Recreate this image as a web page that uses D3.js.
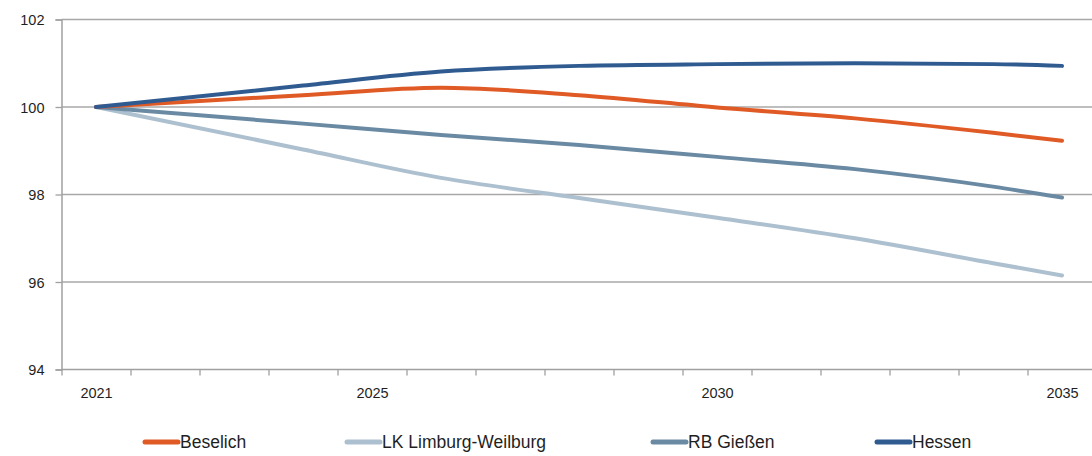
<!DOCTYPE html>
<html>
<head>
<meta charset="utf-8">
<script src="https://cdn.jsdelivr.net/npm/d3@7"></script>
<style>
  body { margin: 0; background: #fff; }
  svg { display: block; font-family: "Liberation Sans", Arial, sans-serif; }
  .axis text { fill: #1f1f1f; }
</style>
</head>
<body>
<div class="chart"></div>
<script>
const width = 1092;
const height = 456;

// data (index, 2021 = 100)
const years = [2021, 2024, 2026, 2028, 2030, 2032, 2034, 2035];
const beselich = [100, 100.27, 100.44, 100.27, 99.99, 99.74, 99.41, 99.23];
const limburgWeilburg = [100, 99.03, 98.38, 97.92, 97.47, 97.0, 96.43, 96.15];
const rbGiessen = [100, 99.62, 99.36, 99.13, 98.86, 98.58, 98.18, 97.93];
const hessen = [100, 100.49, 100.81, 100.94, 100.98, 101.0, 100.98, 100.94];

const seriesNames = ["Beselich", "LK Limburg-Weilburg", "RB Gießen", "Hessen"];
const seriesValues = [beselich, limburgWeilburg, rbGiessen, hessen];
const yTicks = [94, 96, 98, 100, 102];
const xLabels = [2021, 2025, 2030, 2035];

const colors = ["#e05a26", "#adc0cf", "#6a8aa3", "#2f5b91"];
const legendX = [143, 345, 651, 875];

const plotLeft = 61.5;
const plotTop = 19.5;
const plotBottom = 369.5;

const x = d3.scaleLinear().domain([2020.5, 2035.5]).range([plotLeft, plotLeft + 15 * 69]);
const y = d3.scaleLinear().domain([94, 102]).range([plotBottom, plotTop]);

const svg = d3.select(".chart")
   .append("svg")
   .attr("width", width)
   .attr("height", height);

// gridlines
svg.append("g")
   .selectAll("line")
   .data(yTicks.filter((d) => d !== 94))
   .enter()
   .append("line")
   .attr("x1", plotLeft)
   .attr("x2", width)
   .attr("y1", (d) => y(d))
   .attr("y2", (d) => y(d))
   .attr("stroke", "#a8a8a8")
   .attr("stroke-width", 1.3);

// y axis
const yAxis = svg.append("g")
   .attr("class", "axis")
   .attr("transform", `translate(${plotLeft},0)`)
   .call(d3.axisLeft(y).tickValues(yTicks).tickSize(6).tickPadding(11));
yAxis.select(".domain").attr("stroke", "#a0a0a0").attr("stroke-width", 1.5);
yAxis.selectAll(".tick line").attr("stroke", "#a0a0a0").attr("stroke-width", 1.3);
yAxis.selectAll("text").style("font-size", "14.5px").attr("dy", "0.36em");

// x axis: ticks between categories, labels on categories
const boundaries = d3.range(2020.5, 2035, 1);
const xAxis = svg.append("g")
   .attr("class", "axis")
   .attr("transform", `translate(0,${plotBottom})`)
   .call(d3.axisBottom(x).tickValues(boundaries).tickSize(6).tickFormat(""));
xAxis.select(".domain").attr("d", `M${plotLeft},0H${width}`).attr("stroke", "#a0a0a0").attr("stroke-width", 1.5);
xAxis.selectAll(".tick line").attr("stroke", "#a0a0a0").attr("stroke-width", 1.3);

const xLab = svg.append("g")
   .attr("class", "axis")
   .attr("transform", `translate(0,${plotBottom})`)
   .call(d3.axisBottom(x).tickValues(xLabels).tickSize(0).tickPadding(18).tickFormat(d3.format("d")));
xLab.select(".domain").remove();
xLab.selectAll("text").style("font-size", "14.5px");

// lines
const line = d3.line()
   .x((d, i) => x(years[i]))
   .y((d) => y(d))
   .curve(d3.curveMonotoneX);

// draw light ones first, Hessen on top
const order = [1, 2, 0, 3];
svg.append("g")
   .selectAll("path")
   .data(order)
   .enter()
   .append("path")
   .attr("d", (i) => line(seriesValues[i]))
   .attr("fill", "none")
   .attr("stroke", (i) => colors[i])
   .attr("stroke-width", 4)
   .attr("stroke-linecap", "round")
   .attr("stroke-linejoin", "round");

// legend
const legend = svg.append("g")
   .selectAll("g")
   .data(seriesNames)
   .enter()
   .append("g")
   .attr("transform", (d, i) => `translate(${legendX[i]},442)`);

legend.append("line")
   .attr("x1", 2)
   .attr("x2", 35)
   .attr("stroke", (d, i) => colors[i])
   .attr("stroke-width", 5)
   .attr("stroke-linecap", "round");

legend.append("text")
   .attr("x", 37)
   .attr("dy", "0.36em")
   .style("font-size", "17.5px")
   .style("fill", "#1f1f1f")
   .text((d) => d);
</script>
</body>
</html>
